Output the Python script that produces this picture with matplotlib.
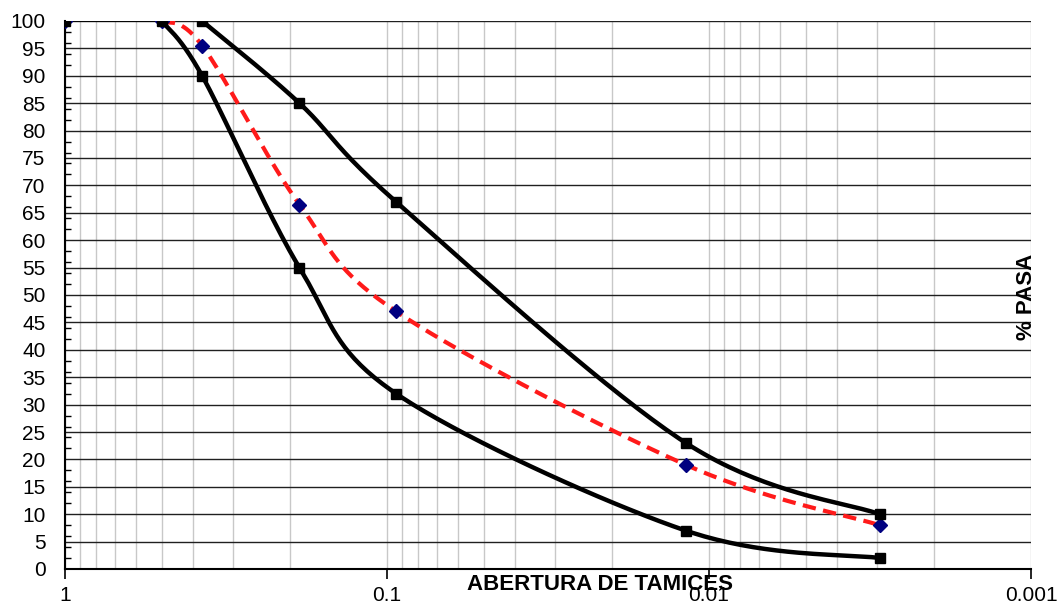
import numpy as np
import matplotlib
matplotlib.use("Agg")
import matplotlib.pyplot as plt
from matplotlib.ticker import MultipleLocator, LogLocator, NullFormatter

plt.rcParams['font.family'] = ['Liberation Sans', 'DejaVu Sans']

# Data (sieve openings and % passing)
sieve_upper = [0.375, 0.187, 0.0937, 0.0118, 0.00295]
pass_upper = [100, 85, 67, 23, 10]
sieve_lower = [0.5, 0.375, 0.187, 0.0937, 0.0118, 0.00295]
pass_lower = [100, 90, 55, 32, 7, 2]
sieve_top = [1.0, 0.5]
pass_top = [100, 100]
sieve_sample = [1.0, 0.5, 0.375, 0.187, 0.0937, 0.0118, 0.00295]
pass_sample = [100, 100, 95.5, 66.5, 47, 19, 8]

xticks = [1, 0.1, 0.01, 0.001]
xtick_labels = ["1", "0.1", "0.01", "0.001"]
yticks = list(range(0, 101, 5))

K = 58.8  # y units per decade (visual aspect used for smoothing)


def smooth(xs, ys, n=40):
    u = -np.log10(np.asarray(xs, float)) * K
    v = np.asarray(ys, float)
    pts = np.column_stack([u, v])
    P = np.vstack([pts[0], pts, pts[-1]])
    out = []
    for i in range(1, len(P) - 2):
        p0, p1, p2, p3 = P[i - 1], P[i], P[i + 1], P[i + 2]
        c1 = p1 + (p2 - p0) / 6.0
        c2 = p2 - (p3 - p1) / 6.0
        t = np.linspace(0, 1, n)[:, None]
        seg = ((1 - t) ** 3) * p1 + 3 * ((1 - t) ** 2) * t * c1 + 3 * (1 - t) * t ** 2 * c2 + t ** 3 * p2
        out.append(seg if i == 1 else seg[1:])
    out = np.vstack(out)
    return 10 ** (-out[:, 0] / K), out[:, 1]


fig = plt.figure(figsize=(10.59, 6.06), dpi=100)
ax = fig.add_axes([65 / 1059, 37 / 606, (1031 - 65) / 1059, (569 - 21) / 606])
ax.set_xscale('log')
ax.set_xlim(1, 0.001)
ax.set_ylim(0, 100)

# grid
ax.xaxis.set_minor_locator(LogLocator(base=10, subs=np.arange(2, 10)))
ax.xaxis.set_minor_formatter(NullFormatter())
ax.grid(True, which='both', axis='x', color='#c8c8c8', lw=1.0)
ax.set_yticks(yticks)
ax.grid(True, which='major', axis='y', color='#202020', lw=1.0)
ax.yaxis.set_minor_locator(MultipleLocator(2))
ax.set_axisbelow(True)

ax.set_xticks(xticks)
ax.set_xticklabels(xtick_labels)
ax.tick_params(axis='x', which='major', direction='out', length=7, width=1.2, labelsize=15, pad=5)
ax.tick_params(axis='x', which='minor', length=0)
ax.tick_params(axis='y', which='major', direction='in', length=0, labelsize=15, pad=14)
ax.tick_params(axis='y', which='minor', direction='in', length=4, width=1)

for s in ['top', 'right']:
    ax.spines[s].set_visible(False)
ax.spines['left'].set_linewidth(1.5)
ax.spines['bottom'].set_linewidth(1.5)

# thin line at top
ax.plot(sieve_top, pass_top, color='black', lw=1.2, zorder=3)

# lower curve
xs, ys = smooth(sieve_lower, pass_lower)
ax.plot(xs, ys, color='black', lw=3.2, zorder=4, solid_capstyle='round')
ax.plot(sieve_lower, pass_lower, 's', color='black', ms=7.5, zorder=6)

# upper curve
xs, ys = smooth(sieve_upper, pass_upper)
ax.plot(xs, ys, color='black', lw=3.2, zorder=4, solid_capstyle='round')
ax.plot(sieve_upper, pass_upper, 's', color='black', ms=7.5, zorder=6)

# sample curve
xs, ys = smooth(sieve_sample[1:], pass_sample[1:])
ax.plot(xs, ys, color='#ff1a1a', lw=3.0, ls=(0, (3.2, 1.8)), zorder=5)
ax.plot(sieve_sample, pass_sample, 'D', color='#000080', ms=7, zorder=5)
ax.plot([sieve_sample[0]], [pass_sample[0]], 's', color='black', ms=7.5, zorder=7)

fig.text(600 / 1059, 1 - 584 / 606, "ABERTURA DE TAMICES", ha='center', va='center',
         fontsize=16, fontweight='bold')
fig.text(1027 / 1059, 1 - 297 / 606, "% PASA", ha='center', va='center', rotation=90,
         fontsize=16, fontweight='bold')

fig.savefig('out.png', dpi=100)
